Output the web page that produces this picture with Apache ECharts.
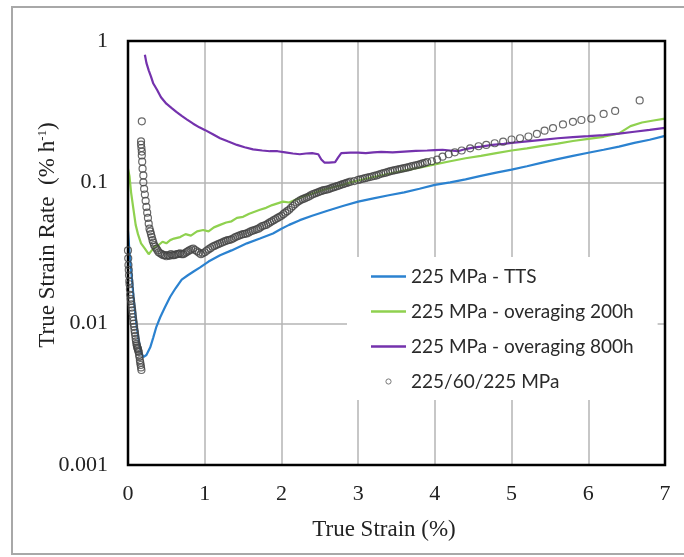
<!DOCTYPE html>
<html>
<head>
<meta charset="utf-8">
<script src="https://cdn.jsdelivr.net/npm/echarts@6/dist/echarts.min.js"></script>
<style>
html,body{margin:0;padding:0;background:#fff;}
#chart{width:684px;height:557px;}
</style>
</head>
<body>
<div id="chart"></div>
<script>
// ---- data (True Strain %, True Strain Rate % h^-1) ----
var seriesNames = ['225 MPa - TTS', '225 MPa - overaging 200h', '225 MPa - overaging 800h', '225/60/225 MPa'];
var xTicks = [0, 1, 2, 3, 4, 5, 6, 7];
var yTicks = [0.001, 0.01, 0.1, 1];
var yTickLabels = ['0.001', '0.01', '0.1', '1'];

var tts = [
  [0, 0.045], [0.02, 0.032], [0.05, 0.021], [0.08, 0.014], [0.11, 0.0098], [0.14, 0.0076],
  [0.17, 0.0063], [0.2, 0.0058], [0.24, 0.006], [0.29, 0.0068], [0.33, 0.008], [0.37, 0.0095],
  [0.42, 0.0111], [0.48, 0.013], [0.55, 0.0155], [0.62, 0.0178], [0.7, 0.0205], [0.78, 0.022],
  [0.86, 0.0235], [0.94, 0.025], [1.05, 0.0275], [1.2, 0.0305], [1.35, 0.033], [1.55, 0.037],
  [1.72, 0.040], [1.89, 0.0435], [2.0, 0.047], [2.1, 0.05], [2.24, 0.054], [2.4, 0.058],
  [2.6, 0.063], [2.8, 0.068], [3.0, 0.073], [3.2, 0.077], [3.4, 0.081], [3.6, 0.085],
  [3.8, 0.09], [4.0, 0.096], [4.2, 0.1], [4.4, 0.105], [4.6, 0.111], [4.8, 0.117],
  [5.0, 0.123], [5.2, 0.13], [5.4, 0.138], [5.6, 0.146], [5.8, 0.154], [6.0, 0.162],
  [6.2, 0.17], [6.4, 0.179], [6.6, 0.19], [6.8, 0.2], [7.0, 0.213]
];

var over200 = [
  [0.0, 0.125], [0.02, 0.11], [0.04, 0.085], [0.07, 0.065], [0.1, 0.05], [0.13, 0.043],
  [0.17, 0.037], [0.22, 0.034], [0.27, 0.031], [0.31, 0.033], [0.35, 0.035], [0.4, 0.036],
  [0.45, 0.038], [0.5, 0.037], [0.55, 0.039], [0.6, 0.04], [0.68, 0.041], [0.75, 0.043],
  [0.82, 0.042], [0.9, 0.045], [0.98, 0.046], [1.05, 0.045], [1.12, 0.048], [1.2, 0.05],
  [1.28, 0.052], [1.35, 0.053], [1.42, 0.056], [1.5, 0.057], [1.58, 0.06], [1.65, 0.062],
  [1.72, 0.064], [1.8, 0.066], [1.88, 0.069], [1.95, 0.071], [2.02, 0.073], [2.1, 0.072],
  [2.2, 0.076], [2.3, 0.08], [2.4, 0.083], [2.5, 0.087], [2.6, 0.09], [2.7, 0.093],
  [2.8, 0.096], [2.9, 0.1], [3.0, 0.103], [3.2, 0.109], [3.4, 0.115], [3.6, 0.121],
  [3.8, 0.127], [4.0, 0.134], [4.2, 0.141], [4.4, 0.148], [4.6, 0.154], [4.8, 0.161],
  [5.0, 0.168], [5.2, 0.174], [5.4, 0.181], [5.6, 0.188], [5.8, 0.196], [6.0, 0.203],
  [6.2, 0.21], [6.4, 0.222], [6.55, 0.25], [6.7, 0.265], [6.85, 0.274], [7.0, 0.282]
];

var over800 = [
  [0.22, 0.8], [0.24, 0.7], [0.27, 0.62], [0.3, 0.56], [0.33, 0.5], [0.38, 0.45],
  [0.43, 0.4], [0.5, 0.36], [0.57, 0.335], [0.63, 0.315], [0.7, 0.295], [0.77, 0.278],
  [0.85, 0.26], [0.93, 0.245], [1.0, 0.235], [1.1, 0.22], [1.2, 0.205], [1.3, 0.195],
  [1.42, 0.184], [1.52, 0.177], [1.63, 0.171], [1.75, 0.168], [1.85, 0.166], [1.95, 0.166],
  [2.05, 0.163], [2.15, 0.16], [2.24, 0.158], [2.32, 0.16], [2.4, 0.161], [2.48, 0.158],
  [2.52, 0.145], [2.56, 0.138], [2.62, 0.138], [2.7, 0.139], [2.74, 0.15], [2.78, 0.161],
  [2.9, 0.162], [3.0, 0.162], [3.1, 0.161], [3.2, 0.163], [3.3, 0.164], [3.45, 0.163],
  [3.6, 0.165], [3.75, 0.167], [3.9, 0.168], [4.0, 0.169], [4.1, 0.17], [4.2, 0.168],
  [4.3, 0.166], [4.4, 0.172], [4.5, 0.176], [4.6, 0.179], [4.75, 0.184], [4.9, 0.187],
  [5.0, 0.19], [5.2, 0.195], [5.4, 0.2], [5.6, 0.205], [5.8, 0.209], [6.0, 0.212],
  [6.2, 0.216], [6.4, 0.221], [6.6, 0.228], [6.8, 0.235], [7.0, 0.243]
];

var cyclic = [
  [0.0, 0.033], [0.003, 0.029], [0.006, 0.026], [0.01, 0.024], [0.013, 0.022], [0.017, 0.02],
  [0.02, 0.019], [0.025, 0.0175], [0.03, 0.016], [0.035, 0.015], [0.04, 0.0145], [0.045, 0.0137],
  [0.05, 0.013], [0.055, 0.0124], [0.06, 0.0118], [0.065, 0.0111], [0.07, 0.0105], [0.075, 0.01],
  [0.08, 0.0095], [0.085, 0.009], [0.09, 0.0086], [0.095, 0.0082], [0.1, 0.0078], [0.105, 0.0075],
  [0.11, 0.0072], [0.115, 0.007], [0.12, 0.0068], [0.125, 0.0067], [0.13, 0.0066], [0.135, 0.0064],
  [0.14, 0.0063], [0.145, 0.006], [0.15, 0.0058], [0.155, 0.0055], [0.16, 0.0053], [0.165, 0.0051],
  [0.17, 0.0049], [0.175, 0.0047],
  [0.18, 0.27], [0.17, 0.195], [0.17, 0.185], [0.175, 0.175], [0.18, 0.165], [0.18, 0.155],
  [0.185, 0.14], [0.19, 0.125], [0.2, 0.112], [0.2, 0.1], [0.21, 0.09], [0.22, 0.082],
  [0.23, 0.074], [0.24, 0.067], [0.25, 0.061], [0.26, 0.056], [0.27, 0.051], [0.28, 0.047],
  [0.29, 0.045], [0.3, 0.043], [0.31, 0.041], [0.32, 0.039], [0.33, 0.0375], [0.34, 0.036],
  [0.355, 0.035], [0.37, 0.034], [0.385, 0.033], [0.4, 0.032], [0.42, 0.0315], [0.44, 0.031],
  [0.46, 0.0305], [0.48, 0.0305], [0.5, 0.03], [0.52, 0.0305], [0.54, 0.0302], [0.56, 0.031],
  [0.58, 0.0305], [0.6, 0.0305], [0.62, 0.0308], [0.64, 0.031], [0.66, 0.0312], [0.68, 0.0315],
  [0.7, 0.031], [0.72, 0.031], [0.74, 0.0315], [0.76, 0.032], [0.78, 0.0325], [0.8, 0.033],
  [0.825, 0.0335], [0.85, 0.034], [0.875, 0.0332], [0.9, 0.0325], [0.925, 0.0318], [0.95, 0.031],
  [0.975, 0.0315], [1.0, 0.032], [1.025, 0.0328], [1.05, 0.0335], [1.075, 0.0342], [1.1, 0.035],
  [1.125, 0.0355], [1.15, 0.036], [1.175, 0.0365], [1.2, 0.037], [1.225, 0.0375], [1.25, 0.038],
  [1.275, 0.0385], [1.3, 0.039], [1.325, 0.0392], [1.35, 0.0395], [1.375, 0.0402], [1.4, 0.041],
  [1.425, 0.0415], [1.45, 0.042], [1.475, 0.0425], [1.5, 0.043], [1.525, 0.0432], [1.55, 0.0435],
  [1.575, 0.0442], [1.6, 0.045], [1.625, 0.0455], [1.65, 0.046], [1.675, 0.0465], [1.7, 0.047],
  [1.725, 0.048], [1.75, 0.049], [1.775, 0.0495], [1.8, 0.05], [1.825, 0.051], [1.85, 0.052],
  [1.875, 0.053], [1.9, 0.054], [1.925, 0.055], [1.95, 0.056], [1.975, 0.057], [2.0, 0.058],
  [2.025, 0.0595], [2.05, 0.061], [2.075, 0.0625], [2.1, 0.064], [2.125, 0.066], [2.15, 0.068],
  [2.175, 0.07], [2.2, 0.072], [2.225, 0.0735], [2.25, 0.075], [2.275, 0.076], [2.3, 0.077],
  [2.325, 0.078], [2.35, 0.079], [2.375, 0.0805], [2.4, 0.082], [2.425, 0.083], [2.45, 0.084],
  [2.475, 0.085], [2.5, 0.086], [2.525, 0.087], [2.55, 0.088], [2.575, 0.0885], [2.6, 0.089],
  [2.625, 0.09], [2.65, 0.091], [2.675, 0.092], [2.7, 0.093], [2.725, 0.094], [2.75, 0.095],
  [2.775, 0.096], [2.8, 0.097], [2.825, 0.098], [2.85, 0.099], [2.875, 0.1], [2.9, 0.101],
  [2.95, 0.102], [3.0, 0.104], [3.03, 0.105], [3.06, 0.106], [3.09, 0.107], [3.12, 0.108],
  [3.15, 0.109], [3.18, 0.11], [3.21, 0.111], [3.24, 0.112], [3.27, 0.1135], [3.3, 0.115],
  [3.33, 0.116], [3.36, 0.117], [3.39, 0.1185], [3.42, 0.12], [3.45, 0.121], [3.48, 0.122],
  [3.51, 0.123], [3.54, 0.124], [3.57, 0.125], [3.6, 0.126], [3.63, 0.127], [3.66, 0.128],
  [3.69, 0.1295], [3.72, 0.131], [3.75, 0.132], [3.78, 0.133], [3.81, 0.1345], [3.84, 0.136],
  [3.87, 0.1375], [3.9, 0.139], [3.96, 0.141], [4.03, 0.145], [4.1, 0.152], [4.18, 0.158],
  [4.26, 0.163], [4.35, 0.168], [4.46, 0.174], [4.57, 0.18], [4.67, 0.184], [4.78, 0.189],
  [4.89, 0.194], [5.0, 0.201], [5.11, 0.205], [5.22, 0.211], [5.33, 0.22], [5.43, 0.232],
  [5.54, 0.242], [5.67, 0.257], [5.8, 0.268], [5.91, 0.276], [6.04, 0.282], [6.2, 0.305],
  [6.35, 0.32], [6.67, 0.38]
];

// ---- styles ----
var colors = ['#2b82d0', '#8fd14f', '#7432ad', '#444444'];
var serif = '"Liberation Serif", "Times New Roman", serif';
var sans = 'Lato, "Open Sans", sans-serif';

function svgIcon(inner) {
  var svg = "<svg xmlns='http://www.w3.org/2000/svg' width='35' height='14'>" + inner + "</svg>";
  return 'image://data:image/svg+xml;charset=utf-8,' + encodeURIComponent(svg);
}
function lineIcon(color) {
  return svgIcon("<line x1='0' y1='7' x2='35' y2='7' stroke='" + color + "' stroke-width='2.6'/>");
}
var circleIcon = svgIcon("<circle cx='17.5' cy='7' r='2.6' fill='none' stroke='#555' stroke-width='1'/>");

var chart = echarts.init(document.getElementById('chart'), null, {renderer: 'canvas'});

function lineSeries(name, data, color) {
  return {
    name: name, type: 'line', data: data, symbol: 'none', smooth: false,
    lineStyle: {color: color, width: 2.2}, itemStyle: {color: color}, z: 2,
    animation: false
  };
}

var option = {
  animation: false,
  backgroundColor: '#fff',
  grid: {left: 128, right: 19, top: 41, bottom: 92, show: true, borderColor: '#000', borderWidth: 2.5, z: 3},
  xAxis: {
    type: 'value', min: 0, max: 7, interval: 1,
    axisLine: {show: false}, axisTick: {show: false},
    splitLine: {show: true, lineStyle: {color: '#b4b4b4', width: 1.5}},
    axisLabel: {
      margin: 18, fontFamily: serif, fontSize: 22, color: '#222',
      formatter: function (v) { return xTicks.indexOf(v) >= 0 ? String(v) : ''; }
    }
  },
  yAxis: {
    type: 'log', logBase: 10, min: 0.001, max: 1,
    axisLine: {show: false}, axisTick: {show: false},
    splitLine: {show: true, lineStyle: {color: '#b4b4b4', width: 1.5}},
    axisLabel: {
      margin: 20, fontFamily: serif, fontSize: 22, color: '#222',
      formatter: function (v) {
        for (var i = 0; i < yTicks.length; i++) {
          if (Math.abs(Math.log10(v) - Math.log10(yTicks[i])) < 1e-6) return yTickLabels[i];
        }
        return '';
      }
    }
  },
  legend: {
    orient: 'vertical', left: 347, top: 257,
    backgroundColor: '#fff',
    padding: [10, 24, 9, 24],
    itemWidth: 35, itemHeight: 14, itemGap: 16,
    textStyle: {fontFamily: sans, fontSize: 19, color: '#2a2a2a'},
    data: [
      {name: seriesNames[0], icon: lineIcon(colors[0])},
      {name: seriesNames[1], icon: lineIcon(colors[1])},
      {name: seriesNames[2], icon: lineIcon(colors[2])},
      {name: seriesNames[3], icon: circleIcon}
    ]
  },
  graphic: [
    {type: 'rect', z: -1, shape: {x: 12, y: 7, width: 700, height: 547},
     style: {fill: 'none', stroke: '#a8a8a8', lineWidth: 2}},
    {type: 'text', x: 48, y: 235, rotation: Math.PI / 2,
     style: {
       text: 'True Strain Rate  (% h{sup|-1})',
       font: '23px ' + serif, fill: '#222',
       align: 'center', verticalAlign: 'middle',
       rich: {sup: {fontSize: 13, fontFamily: serif, verticalAlign: 'top', fill: '#222'}}
     }},
    {type: 'text', x: 384, y: 530,
     style: {text: 'True Strain (%)', font: '23px ' + serif, fill: '#222', align: 'center', verticalAlign: 'middle'}}
  ],
  series: [
    lineSeries(seriesNames[0], tts, colors[0]),
    lineSeries(seriesNames[1], over200, colors[1]),
    lineSeries(seriesNames[2], over800, colors[2]),
    {
      name: seriesNames[3], type: 'scatter', data: cyclic,
      symbol: 'circle', symbolSize: 7,
      itemStyle: {color: 'rgba(0,0,0,0)', borderColor: colors[3], borderWidth: 1.2},
      z: 3, animation: false
    }
  ]
};
chart.setOption(option);
</script>
</body>
</html>
